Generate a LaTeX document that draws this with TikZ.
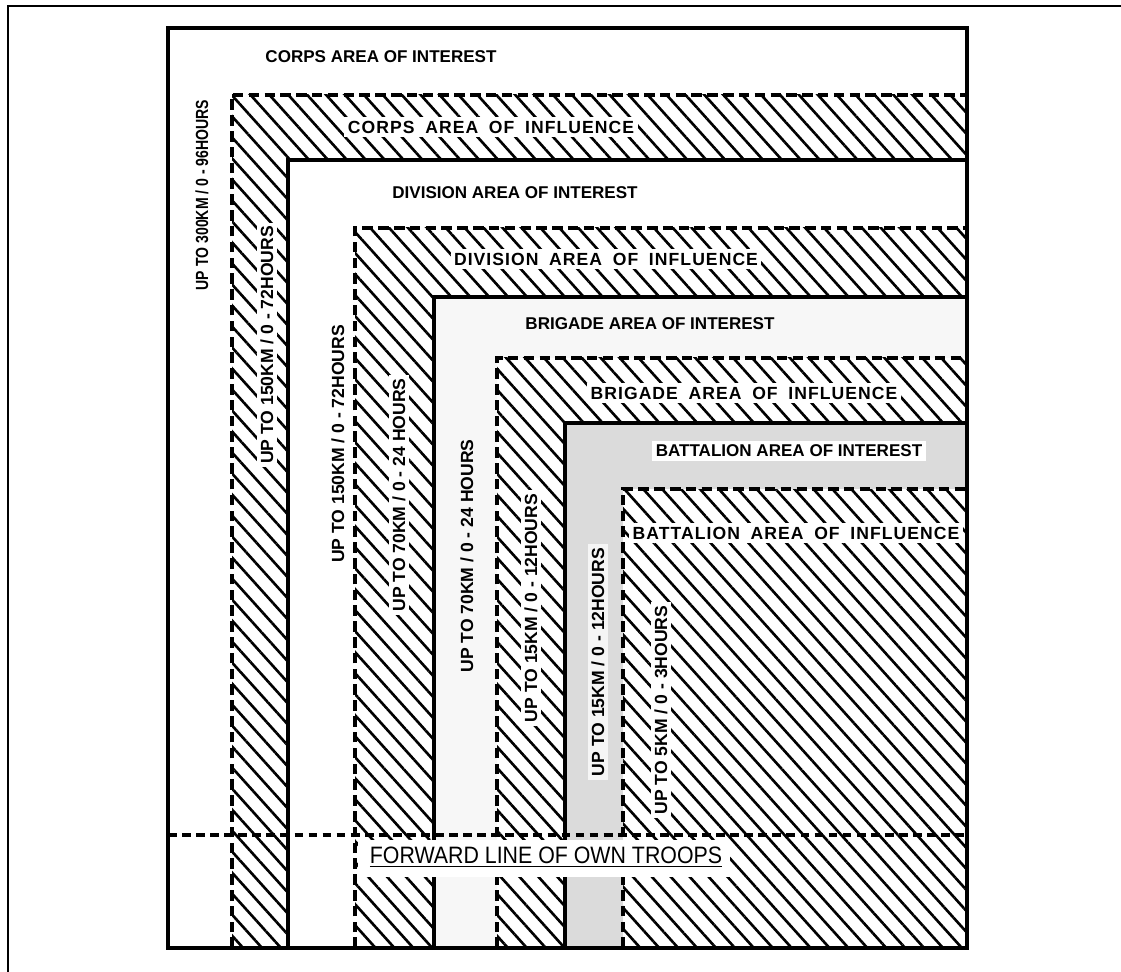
\documentclass[tikz,border=0pt]{standalone}
\usepackage{fontspec}
\setmainfont{Liberation Sans}
\newfontfamily\widefont[LetterSpace=6,WordSpace=1.8]{Liberation Sans}
\newfontfamily\narrowfont[FakeStretch=0.8]{Liberation Sans}
\newfontfamily\flotfont[FakeStretch=0.9]{Liberation Sans}
\usetikzlibrary{patterns.meta}

\tikzset{
  hatched/.style={preaction={fill=white},pattern={Lines[angle=-48,distance=8pt,line width=1.5pt]}},
  interestline/.style={line width=2.3pt},
  influenceline/.style={line width=2pt,dash pattern=on 6pt off 3pt},
  arealabel/.style={font=\bfseries\fontsize{9.7}{11}\selectfont,inner sep=2pt},
  influencelabel/.style={font=\widefont\bfseries\fontsize{10}{12}\selectfont,fill=white,inner sep=2pt},
  rangelabel/.style={rotate=90,font=\bfseries\fontsize{10}{12}\selectfont,inner sep=2pt},
  flotlabel/.style={font=\flotfont\fontsize{13.5}{15}\selectfont,inner sep=1pt},
}

\begin{document}
\begin{tikzpicture}[x=0.02cm,y=-0.02cm]
  \useasboundingbox (0,0) rectangle (1121,972);
  % scan frame
  \draw[line width=1pt] (8,972) -- (8,6) -- (1121,6);
  % areas, outermost first
  \fill[hatched] (232,95) rectangle (967,948);
  \fill[white] (288,160) rectangle (967,948);
  \fill[hatched] (355,228) rectangle (967,948);
  \fill[gray!6] (434,297) rectangle (967,948);
  \fill[hatched] (497,358) rectangle (967,948);
  \fill[gray!28] (565,423) rectangle (967,948);
  \fill[hatched] (623,489) rectangle (967,948);
  % limits
  \draw[influenceline] (232,948) -- (232,95) -- (967,95);
  \draw[interestline] (288,948) -- (288,160) -- (967,160);
  \draw[influenceline] (355,948) -- (355,228) -- (967,228);
  \draw[interestline] (434,948) -- (434,297) -- (967,297);
  \draw[influenceline] (497,948) -- (497,358) -- (967,358);
  \draw[interestline] (565,948) -- (565,423) -- (967,423);
  \draw[influenceline] (623,948) -- (623,489) -- (967,489);
  % FLOT
  \fill[white] (358,840) rectangle (730,877);
  \draw[line width=2pt,dash pattern=on 5pt off 3pt] (168,835) -- (967,835);
  \node[flotlabel] (flot) at (546,857) {\underline{FORWARD LINE OF OWN TROOPS}};

  \node[arealabel] (corpsint) at (381,57) {CORPS AREA OF INTEREST};
  \node[influencelabel] (corpsinf) at (491,127) {CORPS AREA OF INFLUENCE};
  \node[arealabel] (divint) at (515,193) {DIVISION AREA OF INTEREST};
  \node[influencelabel] (divinf) at (606,259) {DIVISION AREA OF INFLUENCE};
  \node[arealabel] (brigint) at (650,324) {BRIGADE AREA OF INTEREST};
  \node[influencelabel] (briginf) at (744,393) {BRIGADE AREA OF INFLUENCE};
  \node[arealabel,fill=white] (batint) at (789,451) {BATTALION AREA OF INTEREST};
  \node[influencelabel] (batinf) at (796,533) {BATTALION AREA OF INFLUENCE};

  \node[rangelabel,font=\narrowfont\bfseries\fontsize{10}{12}\selectfont] (corpsrng) at (202,195) {UP TO 300KM / 0 - 96HOURS};
  \node[rangelabel,fill=white] (corpsinfrng) at (267,345) {UP TO 150KM / 0 - 72HOURS};
  \node[rangelabel] (divrng) at (338,444) {UP TO 150KM / 0 - 72HOURS};
  \node[rangelabel,fill=white] (divinfrng) at (399,495) {UP TO 70KM / 0 - 24 HOURS};
  \node[rangelabel] (brigrng) at (467,556) {UP TO 70KM / 0 - 24 HOURS};
  \node[rangelabel,fill=white] (briginfrng) at (531,608) {UP TO 15KM / 0 - 12HOURS};
  \node[rangelabel,fill=gray!8] (batrng) at (598,662) {UP TO 15KM / 0 - 12HOURS};
  \node[rangelabel,fill=white] (batinfrng) at (661,710) {UP TO 5KM / 0 - 3HOURS};

  % corps area of interest
  \draw[line width=2.8pt] (168,28) rectangle (967,948);
\end{tikzpicture}
\end{document}
